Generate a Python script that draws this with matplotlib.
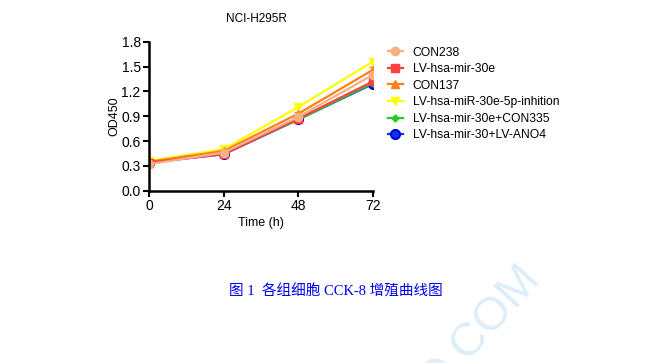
import matplotlib
matplotlib.use("Agg")
import matplotlib.pyplot as plt
from matplotlib.lines import Line2D

# data
time_h = [0, 24, 48, 72]
groups = ['CON238', 'LV-hsa-mir-30e', 'CON137', 'LV-hsa-miR-30e-5p-inhition',
          'LV-hsa-mir-30e+CON335', 'LV-hsa-mir-30+LV-ANO4']
con238 = [0.32, 0.46, 0.89, 1.40]
mir30e = [0.34, 0.44, 0.87, 1.32]
con137 = [0.35, 0.48, 0.93, 1.46]
inhib = [0.36, 0.50, 1.01, 1.56]
con335 = [0.34, 0.45, 0.86, 1.30]
ano4 = [0.34, 0.44, 0.86, 1.29]
err_con137 = [0.01, 0.01, 0.02, 0.04]
err_con238 = [0.01, 0.01, 0.02, 0.03]

series = [con238, mir30e, con137, inhib, con335, ano4]
errs = [err_con238, None, err_con137, None, None, None]
colors = ['#F4B183', '#FF4040', '#FF7F1A', '#FFFF00', '#22CC22', '#1030FF']
markers = ['o', 's', '^', 'v', 'D', 'o']
msizes = [6, 5.5, 6, 6, 3.5, 6.5]

plt.rcParams['font.family'] = ['Liberation Sans', 'DejaVu Sans']

fig = plt.figure(figsize=(6.52, 3.63), dpi=100)
ax = fig.add_axes([0.2285, 0.4747, 0.3435, 0.4105])

handles = []
for i in reversed(range(len(groups))):
    mec = '#0000CC' if i == 5 else colors[i]
    mew = 1.5 if i == 5 else 1
    ax.errorbar(time_h, series[i], yerr=errs[i], color=colors[i], lw=1.6,
                marker=markers[i], ms=msizes[i], mec=mec, mew=mew,
                capsize=3, elinewidth=1.2)
for i in range(len(groups)):
    mec = '#0000CC' if i == 5 else colors[i]
    mew = 1.5 if i == 5 else 1
    handles.append(Line2D([], [], color=colors[i], lw=1.6, marker=markers[i],
                          ms=msizes[i], mec=mec, mew=mew))

ax.set_xlim(0, 72)
ax.set_ylim(0, 1.8)
ax.set_xticks([0, 24, 48, 72])
ax.set_yticks([0.0, 0.3, 0.6, 0.9, 1.2, 1.5, 1.8])
ax.set_yticklabels(['0.0', '0.3', '0.6', '0.9', '1.2', '1.5', '1.8'])
ax.tick_params(labelsize=10, width=1.5, length=4, pad=2)
for s in ['top', 'right']:
    ax.spines[s].set_visible(False)
for s in ['left', 'bottom']:
    ax.spines[s].set_linewidth(1.8)
ax.set_xlabel('Time (h)', fontsize=9, labelpad=3)
ax.set_ylabel('OD450', fontsize=9, labelpad=1)
ax.set_title('NCI-H295R', fontsize=8.5, pad=14, x=0.48)
ax.patch.set_alpha(0)

ax.legend(handles, groups, loc='upper left', bbox_to_anchor=(1.045, 1.0),
          frameon=False, fontsize=8.7, handlelength=1.25, handletextpad=0.8,
          labelspacing=0.38, borderaxespad=0)

fig.text(0.515, 0.197, '图 1  各组细胞 CCK-8 增殖曲线图', color='#0000EE', fontsize=10.5,
         ha='center', va='center', family=['Liberation Serif', 'Noto Sans CJK SC'])

fig.text(0.735, 0.095, 'D.COM', color='#DDEEF8', fontsize=34, rotation=48,
         rotation_mode='anchor', ha='center', va='center', zorder=-1)

fig.savefig('out.png', dpi=100)
